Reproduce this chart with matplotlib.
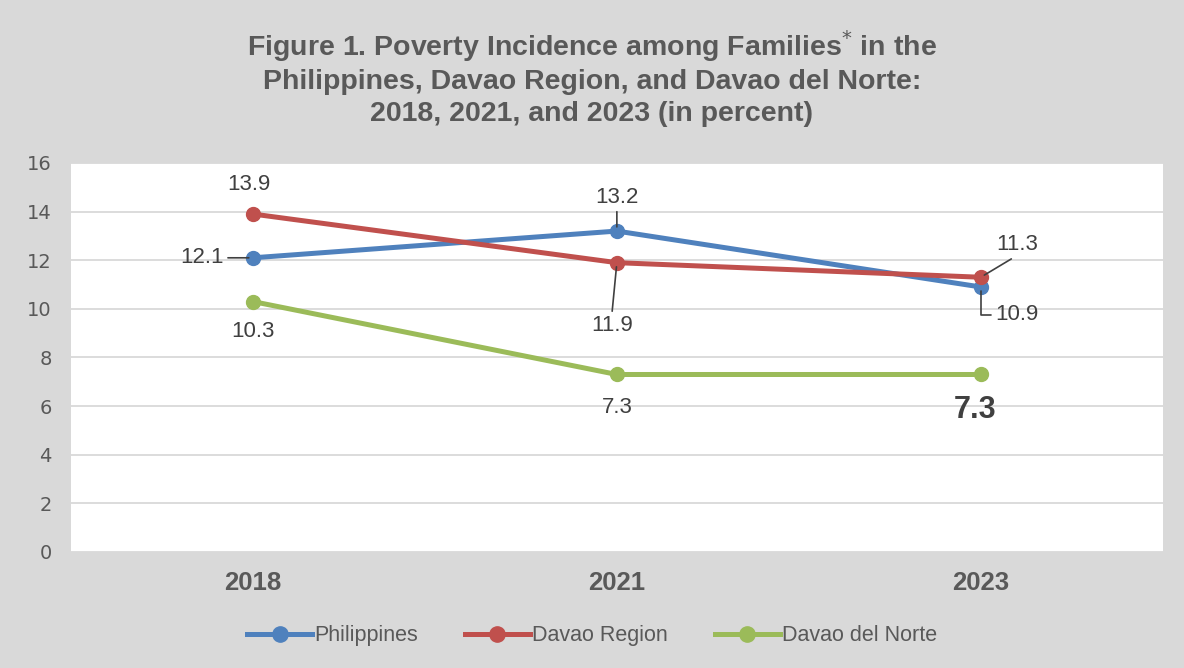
import matplotlib.pyplot as plt
from matplotlib import font_manager

years = ['2018', '2021', '2023']
philippines = [12.1, 13.2, 10.9]
davao_region = [13.9, 11.9, 11.3]
davao_norte = [10.3, 7.3, 7.3]

names = [f.name for f in font_manager.fontManager.ttflist]
narrow = 'Liberation Sans Narrow' if 'Liberation Sans Narrow' in names else 'Liberation Sans'

bg = '#d9d9d9'
txt = '#595959'
fig = plt.figure(figsize=(11.84, 6.68), dpi=100, facecolor=bg)
ax = fig.add_axes([0.06, 0.1737, 0.922, 0.5823])
ax.set_facecolor('white')

x = list(range(len(years)))
ax.plot(x, philippines, color='#4f81bd', lw=3.6, marker='o', ms=10, label='Philippines', zorder=3)
ax.plot(x, davao_region, color='#c0504d', lw=3.6, marker='o', ms=10, label='Davao Region', zorder=3)
ax.plot(x, davao_norte, color='#9bbb59', lw=3.6, marker='o', ms=10, label='Davao del Norte', zorder=3)

ax.set_xlim(-0.5, 2.5)
ax.set_ylim(0, 16)
ax.set_yticks(range(0, 17, 2))
ax.set_xticks(x)
ax.set_xticklabels(years, fontsize=18.5, fontweight='bold', color=txt, family='Liberation Sans')
ax.tick_params(axis='y', labelsize=14, colors=txt, length=0, pad=14)
ax.tick_params(axis='x', length=0, pad=14)
ax.grid(axis='y', color='#d9d9d9', lw=1.3)
for s in ax.spines.values():
    s.set_visible(False)

lc = '#404040'
def lab(txt_, xy, xyt, relpos=None, conn='arc3', size=16, weight='normal'):
    kw = {}
    if relpos is not None:
        kw['arrowprops'] = dict(arrowstyle='-', color=lc, lw=1.2, relpos=relpos,
                                connectionstyle=conn, shrinkA=1, shrinkB=3)
    ax.annotate(txt_, xy=xy, xytext=xyt, ha='center', va='center', fontsize=size,
                fontweight=weight, color='#404040', family='Liberation Sans', zorder=4, **kw)

lab(f'{davao_region[0]}', (0, davao_region[0]), (-0.01, 15.1))
lab(f'{philippines[0]}', (0, philippines[0]), (-0.14, 12.1), relpos=(1, 0.5))
lab(f'{davao_norte[0]}', (0, davao_norte[0]), (0.0, 9.05))
lab(f'{philippines[1]}', (1, philippines[1]), (1.0, 14.6), relpos=(0.5, 0))
lab(f'{davao_region[1]}', (1, davao_region[1]), (0.986, 9.3), relpos=(0.5, 1))
lab(f'{davao_norte[1]}', (1, davao_norte[1]), (1.0, 5.93))
lab(f'{davao_region[2]}', (2, davao_region[2]), (2.10, 12.63), relpos=(0.5, 0))
lab(f'{philippines[2]}', (2, philippines[2]), (2.10, 9.75), relpos=(0, 0.5),
    conn='angle,angleA=0,angleB=90,rad=0')
lab(f'{davao_norte[2]}', (2, davao_norte[2]), (1.985, 5.82), size=22, weight='bold')

# title, one line at a time (baselines) so the spacing matches
title_lines = ['Figure 1. Poverty Incidence among Families$^{*}$ in the',
               'Philippines, Davao Region, and Davao del Norte:',
               '2018, 2021, and 2023 (in percent)']
for line, ypix in zip(title_lines, [56, 89, 121]):
    fig.text(0.5, 1 - ypix / 668, line, ha='center', va='baseline', fontsize=20.5,
             fontweight='bold', color=txt, family=narrow)

leg = fig.legend(loc='center', bbox_to_anchor=(0.5, 0.048), ncol=3, frameon=False,
                 prop={'family': narrow, 'size': 15.5}, handlelength=3.0,
                 columnspacing=2.2, handletextpad=0.1, labelcolor=txt, markerscale=1.1)

fig.savefig('out.png', dpi=100, facecolor=bg)
